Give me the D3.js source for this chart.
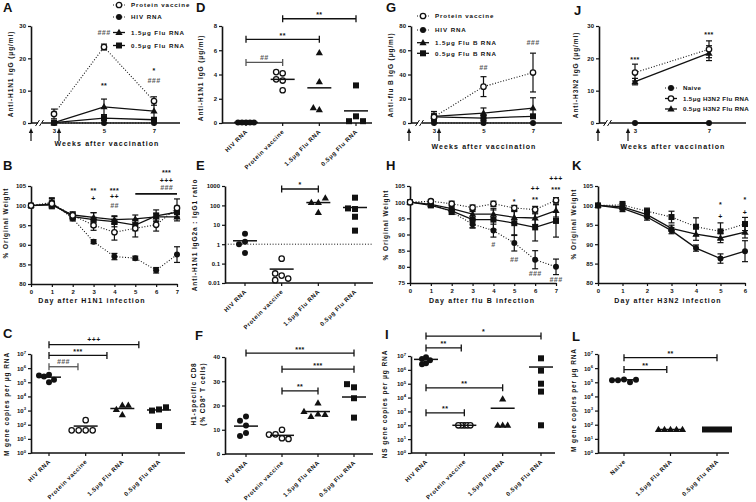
<!DOCTYPE html>
<html><head><meta charset="utf-8">
<script src="https://cdn.jsdelivr.net/npm/d3@7/dist/d3.min.js"></script>
<style>
body{margin:0;background:#fff;}
svg{display:block;}
text{font-family:"Liberation Sans",Arial,Helvetica,sans-serif;font-weight:bold;}
</style></head><body>
<script>
// ======================= DATA =======================
// Panel A – anti-H1N1 IgG (µg/ml) after vaccination
const weeksA = [3, 5, 7];
const aProteinMean = [2.8, 23.5, 6.8];
const aProteinErr  = [1.5, 0.9, 1.3];
const aHivMean     = [0, 0, 0];
const aFlu15Mean   = [0.1, 5.0, 3.7];
const aFlu15Err    = [0, 2.4, 2.6];
const aFlu05Mean   = [0.1, 1.5, 1.0];
const aFlu05Err    = [0, 0.7, 0.6];
const legendA = ["Protein vaccine", "HIV RNA", "1.5μg Flu RNA", "0.5μg Flu RNA"];
const aTicks = [0, 10, 20, 30];
const aNotes = [["###", 5, 28.1], ["**", 5, 12], ["*", 7, 16.4], ["###", 7, 13]];

// Panel B – % original weight after H1N1 infection
const daysB = [0, 1, 2, 3, 4, 5, 6, 7];
const bProteinMean = [100, 100.5, 97.5, 95.0, 93.2, 94.2, 95.1, 99.4];
const bProteinErr  = [0, 1.3, 0.8, 1.3, 2.0, 2.2, 1.6, 2.3];
const bHivMean     = [100, 100.8, 96.7, 90.8, 87.0, 86.6, 83.5, 87.5];
const bHivErr      = [0, 1.2, 0.6, 0.5, 0.8, 0.5, 0.7, 2.0];
const bFlu15Mean   = [100, 100.2, 97.6, 97.0, 96.4, 96.6, 97.1, 97.1];
const bFlu15Err    = [0, 0.8, 0.8, 1.2, 1.0, 1.0, 1.0, 1.0];
const bFlu05Mean   = [100, 100.4, 97.2, 96.4, 95.9, 95.0, 97.4, 98.3];
const bFlu05Err    = [0, 1.0, 0.8, 1.8, 1.3, 1.4, 1.5, 1.5];
const bTicks = [80, 85, 90, 95, 100, 105];
const bNotes = [["**", 3, 104.2], ["+", 3, 101.9], ["***", 4, 104.2], ["++", 4, 102.2], ["##", 4, 99.9],
                ["***", 6.5, 108.6], ["+++", 6.5, 106.5], ["###", 6.5, 104.5]];
const bSpan = [5, 7, 103];

// Panel C – M gene copies per µg RNA
const catsFlu = ["HIV RNA", "Protein vaccine", "1.5μg Flu RNA", "0.5μg Flu RNA"];
const cHiv     = [3.4e5, 2.6e5, 1.0e5, 1.5e5, 3.0e5];
const cProtein = [210, 40, 40, 40, 40];
const cFlu15   = [2.4e3, 5e2, 1.2e3, 2.4e3];
const cFlu05   = [1.2e3, 1.0e3, 1.7e3, 80];
const cCenters = [2.3e5, 80, 1.4e3, 1.1e3];
const powTicks = [1, 10, 100, 1e3, 1e4, 1e5, 1e6, 1e7];
const cSig = [[0, 0.79, 10 ** 6.1, "###"], [0, 1.58, 10 ** 6.9, "***"], [0, 2.45, 10 ** 7.66, "+++"]];

// Panel D – anti-H1N1 IgG (µg/ml)
const dHiv     = [0.05, 0.05, 0.05, 0.05, 0.05];
const dProtein = [4.1, 4.2, 3.6, 3.5, 2.7];
const dFlu15   = [5.8, 3.4, 1.1, 1.25];
const dFlu05   = [3.1, 0.55, 0.15, 0.15];
const dCenters = [0.05, 3.6, 2.9, 1.0];
const dTicks = [0, 2, 4, 6, 8];
const dSig = [[0, 1, 5.0, "##"], [0, 2, 6.9, "**"], [1, 3, 8.6, "**"]];

// Panel E – IgG2a : IgG1 ratio
const eHiv     = [3.5, 1.35, 1.0, 0.35];
const eProtein = [0.18, 0.024, 0.014, 0.017, 0.031];
const eFlu15   = [140, 140, 240, 43];
const eFlu05   = [250, 65, 70, 26, 5];
const eCenters = [1.5, 0.052, 140, 78];
const eTicks = [0.01, 0.1, 1, 10, 100, 1000];
const eSig = [[1, 2, 700, "*"]];

// Panel F – H1-specific CD8 (% CD8+ T cells)
const fHiv     = [15.5, 13.7, 11.8, 8.7, 7.4];
const fProtein = [10, 8.1, 6.5, 6.2, 8.0];
const fFlu15   = [21, 16.5, 15.5, 16.3, 17.5];
const fFlu05   = [27.5, 28.8, 23, 15];
const fCenters = [11.5, 7.7, 17.5, 23.5];
const fTicks = [0, 10, 20, 30, 40];
const fSig = [[0, 3, 41.6, "***"], [1, 3, 35, "***"], [1, 2, 26, "**"]];

// Panel G – anti-flu B IgG (µg/ml)
const weeksG = [3, 5, 7];
const gProteinMean = [5, 30, 41.6];
const gProteinErr  = [3, 8.2, 16];
const gHivMean     = [0, 0, 0];
const gFlu15Mean   = [5.5, 8.2, 12.3];
const gFlu15Err    = [4, 4.2, 8.5];
const gFlu05Mean   = [5, 4.1, 5.5];
const gFlu05Err    = [2, 2.5, 1.5];
const legendG = ["Protein vaccine", "HIV RNA", "1.5μg Flu B RNA", "0.5μg Flu B RNA"];
const gTicks = [0, 20, 40, 60, 80];
const gNotes = [["##", 5, 46], ["###", 7, 66]];

// Panel H – % original weight after flu B infection
const daysH = [0, 1, 2, 3, 4, 5, 6, 7];
const hProteinMean = [100, 100.3, 99.5, 98.3, 99.5, 98.2, 97.7, 100.6];
const hProteinErr  = [0, 0.5, 0.8, 0.8, 0.8, 0.8, 1.0, 0.8];
const hHivMean     = [100, 99.5, 97.0, 93.2, 91.2, 87.4, 82.2, 80.0];
const hHivErr      = [0, 0.5, 0.8, 1.2, 2.0, 2.5, 2.8, 2.4];
const hFlu15Mean   = [100, 99.3, 98.0, 96.3, 96.3, 95.3, 95.1, 97.4];
const hFlu15Err    = [0, 0.5, 1.0, 1.5, 1.8, 1.8, 2.0, 2.0];
const hFlu05Mean   = [100, 99.0, 97.3, 94.6, 94.6, 93.5, 92.2, 94.2];
const hFlu05Err    = [0, 0.6, 1.0, 2.5, 3.0, 3.8, 4.2, 5.0];
const hTicks = [75, 80, 85, 90, 95, 100, 105];
const hNotes = [["#", 4, 86.8], ["*", 5, 100.4], ["##", 5, 82.1], ["++", 6, 104.1], ["**", 6, 101.2],
                ["###", 6, 78], ["+++", 7, 107.4], ["***", 7, 104.3], ["###", 7, 75.9]];

// Panel I – NS gene copies per µg RNA
const iHiv     = [8e6, 6e6, 5e6, 3e6, 2.5e6];
const iProtein = [100, 100, 100, 100, 100];
const iFlu15   = [8e3, 100, 100, 100];
const iFlu05   = [6.8e6, 8.8e5, 1e5, 2.7e4, 100];
const iCenters = [5.7e6, 100, 1.7e3, 1.6e6];
const iSig = [[0, 3, 10 ** 8.44, "*"], [0, 0.92, 10 ** 7.58, "**"], [0, 2, 10 ** 4.7, "**"], [0, 1, 10 ** 2.9, "**"]];

// Panel J – anti-H3N2 IgG (µg/ml)
const weeksJ = [3, 7];
const jNaiveMean = [0, 0];
const jFlu15Mean = [15.6, 22.8];
const jFlu15Err  = [2.6, 2.6];
const jFlu05Mean = [12.8, 21.6];
const jFlu05Err  = [1.0, 2.3];
const legendJ = ["Naive", "1.5μg H3N2 Flu RNA", "0.5μg H3N2 Flu RNA"];
const jTicks = [0, 10, 20, 30];
const jNotes = [["***", 3, 20], ["***", 7, 27.8]];

// Panel K – % original weight after H3N2 infection
const daysK = [0, 1, 2, 3, 4, 5, 6];
const kSquareMean = [100, 100.1, 98.5, 97.0, 94.5, 93.3, 95.2];
const kSquareErr  = [0, 0.9, 0.8, 1.5, 2.3, 2.2, 1.7];
const kTriMean    = [100, 99.6, 97.6, 94.1, 92.6, 91.6, 93.1];
const kTriErr     = [0, 0.8, 0.7, 0.8, 1.6, 1.2, 1.5];
const kCircleMean = [100, 99.2, 97.0, 93.5, 89.0, 86.3, 88.2];
const kCircleErr  = [0, 0.8, 0.8, 0.8, 0.8, 1.2, 2.7];
const kTicks = [80, 85, 90, 95, 100, 105];
const kNotes = [["*", 5, 100.5], ["+", 5, 97.1], ["*", 6, 101.8], ["+", 6, 98.1]];

// Panel L – M gene copies per µg RNA (H3N2)
const catsL = ["Naive", "1.5μg Flu RNA", "0.5μg Flu RNA"];
const lNaive   = [1.6e5, 1.4e5, 1.0e5, 1.4e5, 1.5e5];
const lFlu15   = [46, 46, 46, 46, 46];
const lFlu05   = [46, 46, 46, 46, 46];
const lCenters = [1.5e5, 46, 46];
const lSig = [[0, 0.92, 10 ** 5.9, "**"], [0, 2, 10 ** 6.74, "**"]];

// ======================= DRAWING =======================
const svg = d3.select('body').append('svg').attr('width', 756).attr('height', 502);
const INK = '#111', GRAY = '#555';

function addText(x, y, s, o = {}) {
  const t = svg.append('text').attr('x', x).attr('y', y).text(s)
    .attr('font-size', o.size || 6).attr('text-anchor', o.anchor || 'middle').attr('fill', o.fill || INK);
  if (o.ls != null) t.attr('letter-spacing', o.ls);
  if (o.italic) t.attr('font-style', 'italic');
  if (o.rotate) t.attr('transform', `rotate(${o.rotate},${x},${y})`);
  return t;
}
function hline(x1, x2, y, w, col) {
  return svg.append('line').attr('x1', x1).attr('x2', x2).attr('y1', y).attr('y2', y)
    .attr('stroke', col || INK).attr('stroke-width', w || 1.6);
}
function vline(x, y1, y2, w, col) {
  return svg.append('line').attr('x1', x).attr('x2', x).attr('y1', y1).attr('y2', y2)
    .attr('stroke', col || INK).attr('stroke-width', w || 1.6);
}
function drawMarker(type, x, y, s) {
  if (type === 'circle') svg.append('circle').attr('cx', x).attr('cy', y).attr('r', s / 2).attr('fill', INK);
  else if (type === 'open') svg.append('circle').attr('cx', x).attr('cy', y).attr('r', s / 2 - 0.3)
    .attr('fill', '#fff').attr('stroke', INK).attr('stroke-width', 1.3);
  else if (type === 'square') svg.append('rect').attr('x', x - s / 2).attr('y', y - s / 2)
    .attr('width', s).attr('height', s).attr('fill', INK);
  else if (type === 'tri') svg.append('path')
    .attr('d', `M${x},${y - s * 0.62}L${x + s * 0.6},${y + s * 0.42}L${x - s * 0.6},${y + s * 0.42}Z`).attr('fill', INK);
}
function styleAxis(g) {
  g.attr('font-family', null).attr('font-size', null);
  g.select('.domain').attr('stroke', INK).attr('stroke-width', 1.6);
  g.selectAll('.tick line').attr('stroke', INK).attr('stroke-width', 1.2);
  g.selectAll('.tick text').attr('fill', INK).attr('font-size', 6);
}
function yAxis(scale, x, ticks, fmt) {
  const g = svg.append('g').attr('transform', `translate(${x},0)`)
    .call(d3.axisLeft(scale).tickValues(ticks).tickSize(3).tickSizeOuter(0).tickPadding(2)
      .tickFormat(fmt || d3.format('d')));
  styleAxis(g);
  return g;
}
function yAxisPow(scale, x, ticks) {
  const g = yAxis(scale, x, ticks, () => '');
  g.selectAll('.tick').each(function (d) {
    const t = d3.select(this).select('text').text(null);
    t.append('tspan').text('10');
    t.append('tspan').attr('dy', -2.6).attr('font-size', 4.2).text(Math.round(Math.log10(d)));
  });
}
function xAxisNum(scale, y, ticks) {
  const g = svg.append('g').attr('transform', `translate(0,${y})`)
    .call(d3.axisBottom(scale).tickValues(ticks).tickSize(3).tickSizeOuter(0).tickPadding(3)
      .tickFormat(d3.format('d')));
  styleAxis(g);
  return g;
}
function xAxisWeeks(scale, y, ticks, x0, x1, brk, arrows) {
  hline(x0, x1, y, 1.6);
  const g = xAxisNum(scale, y, ticks);
  g.select('.domain').remove();
  // axis break
  svg.append('rect').attr('x', brk - 2).attr('y', y - 2).attr('width', 4).attr('height', 4).attr('fill', '#fff');
  [brk - 3, brk + 1].forEach(bx => svg.append('line').attr('x1', bx - 1.5).attr('y1', y + 3)
    .attr('x2', bx + 2.5).attr('y2', y - 3).attr('stroke', INK).attr('stroke-width', 1));
  arrows.forEach(ax => {
    vline(ax, y + 8, y + 18, 1.2);
    svg.append('path').attr('d', `M${ax},${y + 5}L${ax + 2.2},${y + 10}L${ax - 2.2},${y + 10}Z`).attr('fill', INK);
  });
}
function xAxisCat(xc, y, x0, x1, labels) {
  hline(x0, x1, y, 1.6);
  labels.forEach((lab, i) => {
    const cx = xc(i);
    vline(cx, y, y + 3, 1.2);
    addText(cx + 2, y + 9, lab, { anchor: 'end', size: 6, ls: 0.6, rotate: -45 });
  });
}
function series(x, y, xs, means, errs, type, dashed) {
  const line = d3.line().x((d, i) => x(xs[i])).y(d => y(d));
  svg.append('path').datum(means).attr('d', line).attr('fill', 'none').attr('stroke', INK)
    .attr('stroke-width', dashed ? 1.1 : 1.3).attr('stroke-dasharray', dashed ? '1,1.8' : null);
  if (errs) means.forEach((m, i) => {
    const e = errs[i]; if (!e) return;
    const cx = x(xs[i]), ya = y(m + e), yb = y(m - e);
    vline(cx, ya, yb, 1.2);
    hline(cx - 3, cx + 3, ya, 1.2); hline(cx - 3, cx + 3, yb, 1.2);
  });
  means.forEach((m, i) => drawMarker(type, x(xs[i]), y(m), 6));
}
function note(x, y, s) {
  const hash = s[0] === '#', star = s[0] === '*';
  addText(x, y + (star ? 3.4 : 2.4), s, { size: 7, fill: hash ? GRAY : INK, italic: hash, ls: 0.4 });
}
function sigBar(xc, y, a, b, v, s) {
  const x1 = xc(a), x2 = xc(b), py = y(v), col = s[0] === '#' ? GRAY : INK;
  hline(x1, x2, py, 1.3, col); vline(x1, py - 3.5, py + 3.5, 1.3, col); vline(x2, py - 3.5, py + 3.5, 1.3, col);
  note((x1 + x2) / 2, py - 5, s);
}
function swarm(vals, y, cx, step) {
  const placed = [];
  return vals.map(v => {
    const py = y(v); let off = 0;
    for (let k = 0; k < 40; k++) {
      off = k === 0 ? 0 : (k % 2 ? -1 : 1) * Math.ceil(k / 2) * step;
      if (placed.every(p => Math.hypot(p.x - off, p.y - py) >= step - 0.01)) break;
    }
    placed.push({ x: off, y: py });
    return [cx + off, py];
  });
}
function group(xc, y, i, vals, center, type, step) {
  swarm(vals, y, xc(i), step).forEach(([px, py]) => drawMarker(type, px, py, 6));
  hline(xc(i) - 12, xc(i) + 12, y(center), 1.5);
}
function legend(x, ys, labels, types, dashes, ls) {
  labels.forEach((lab, i) => {
    svg.append('line').attr('x1', x - 6).attr('x2', x + 6).attr('y1', ys[i]).attr('y2', ys[i])
      .attr('stroke', INK).attr('stroke-width', dashes[i] ? 1.1 : 1.3).attr('stroke-dasharray', dashes[i] ? '1,1.8' : null);
    drawMarker(types[i], x, ys[i], 6);
    addText(x + 12, ys[i] + 2.2, lab, { anchor: 'start', size: 6.2, ls: ls });
  });
}
function ytitle(x, y, s) { addText(x, y, s, { size: 6.5, ls: 0.9, rotate: -90 }); }
function xtitle(x, y, s) { addText(x, y, s, { size: 7, ls: 1.1 }); }
function letter(x, y, s) { addText(x, y, s, { anchor: 'start', size: 13 }); }

// ---------- Panel A ----------
{
  const y = d3.scaleLinear().domain([0, 30]).range([123, 26]);
  const x = d3.scaleLinear().domain([3, 7]).range([54, 154]);
  yAxis(y, 31, aTicks);
  xAxisWeeks(x, 123, weeksA, 31, 180, 40, [31, 59]);
  series(x, y, weeksA, aHivMean, null, 'circle', true);
  series(x, y, weeksA, aFlu05Mean, aFlu05Err, 'square', false);
  series(x, y, weeksA, aFlu15Mean, aFlu15Err, 'tri', false);
  series(x, y, weeksA, aProteinMean, aProteinErr, 'open', true);
  aNotes.forEach(([s, wx, v]) => note(x(wx), y(v), s));
  legend(119, [5, 17, 32.5, 45.5], legendA, ['open', 'circle', 'tri', 'square'], [true, true, false, false], 0.9);
  ytitle(13, 74, "Anti-H1N1 IgG (μg/ml)");
  xtitle(107, 146, "Weeks after vaccination");
  letter(3, 12, "A");
}
// ---------- Panel B ----------
{
  const y = d3.scaleLinear().domain([80, 105]).range([284, 186]);
  const x = d3.scaleLinear().domain([0, 7]).range([31, 177]);
  yAxis(y, 31, bTicks);
  xAxisNum(x, 284, daysB);
  series(x, y, daysB, bHivMean, bHivErr, 'circle', true);
  series(x, y, daysB, bFlu15Mean, bFlu15Err, 'tri', false);
  series(x, y, daysB, bFlu05Mean, bFlu05Err, 'square', false);
  series(x, y, daysB, bProteinMean, bProteinErr, 'open', true);
  bNotes.forEach(([s, dx, v]) => note(x(dx), y(v), s));
  hline(x(bSpan[0]), x(bSpan[1]), y(bSpan[2]), 1.6);
  ytitle(8, 223, "% Original Weight");
  xtitle(92, 303, "Day after H1N1 infection");
  letter(3, 170, "B");
}
// ---------- Panel C ----------
{
  const y = d3.scaleLog().domain([1, 1e7]).range([453, 354]);
  const xc = d3.scaleLinear().domain([0, 3]).range([49, 159]);
  yAxisPow(y, 31, powTicks);
  xAxisCat(xc, 453, 31, 185, catsFlu);
  group(xc, y, 0, cHiv, cCenters[0], 'circle', 5);
  group(xc, y, 1, cProtein, cCenters[1], 'open', 7);
  group(xc, y, 2, cFlu15, cCenters[2], 'tri', 6);
  group(xc, y, 3, cFlu05, cCenters[3], 'square', 7);
  cSig.forEach(([a, b, v, s]) => sigBar(xc, y, a, b, v, s));
  ytitle(9, 404, "M gene copies per μg RNA");
  letter(3, 338, "C");
}
// ---------- Panel D ----------
{
  const y = d3.scaleLinear().domain([0, 8]).range([123, 26]);
  const xc = d3.scaleLinear().domain([0, 3]).range([246, 356]);
  yAxis(y, 222, dTicks);
  xAxisCat(xc, 123, 222, 372, catsFlu);
  group(xc, y, 0, dHiv, dCenters[0], 'circle', 4);
  group(xc, y, 1, dProtein, dCenters[1], 'open', 6.5);
  group(xc, y, 2, dFlu15, dCenters[2], 'tri', 6);
  group(xc, y, 3, dFlu05, dCenters[3], 'square', 7);
  dSig.forEach(([a, b, v, s]) => sigBar(xc, y, a, b, v, s));
  ytitle(203, 78, "Anti-H1N1 IgG (μg/ml)");
  letter(196, 12, "D");
}
// ---------- Panel E ----------
{
  const y = d3.scaleLog().domain([0.01, 1000]).range([283, 186]);
  const xc = d3.scaleLinear().domain([0, 3]).range([245, 355]);
  yAxis(y, 225, eTicks, d => String(d));
  xAxisCat(xc, 283, 225, 373, catsFlu);
  svg.append('line').attr('x1', 225).attr('x2', 373).attr('y1', y(1)).attr('y2', y(1))
    .attr('stroke', INK).attr('stroke-width', 1).attr('stroke-dasharray', '1,1.8');
  group(xc, y, 0, eHiv, eCenters[0], 'circle', 6);
  group(xc, y, 1, eProtein, eCenters[1], 'open', 6.5);
  group(xc, y, 2, eFlu15, eCenters[2], 'tri', 7);
  group(xc, y, 3, eFlu05, eCenters[3], 'square', 7);
  eSig.forEach(([a, b, v, s]) => sigBar(xc, y, a, b, v, s));
  ytitle(197, 235, "Anti-H1N1 IgG2a : IgG1 ratio");
  letter(196, 170, "E");
}
// ---------- Panel F ----------
{
  const y = d3.scaleLinear().domain([0, 40]).range([454, 357]);
  const xc = d3.scaleLinear().domain([0, 3]).range([246, 354]);
  yAxis(y, 225, fTicks);
  xAxisCat(xc, 454, 225, 373, catsFlu);
  group(xc, y, 0, fHiv, fCenters[0], 'circle', 6);
  group(xc, y, 1, fProtein, fCenters[1], 'open', 6.5);
  group(xc, y, 2, fFlu15, fCenters[2], 'tri', 7);
  group(xc, y, 3, fFlu05, fCenters[3], 'square', 7);
  fSig.forEach(([a, b, v, s]) => sigBar(xc, y, a, b, v, s));
  ytitle(196, 394, "H1-specific CD8");
  ytitle(205, 394, "(% CD8⁺ T cells)");
  letter(195, 340, "F");
}
// ---------- Panel G ----------
{
  const y = d3.scaleLinear().domain([0, 80]).range([123, 26]);
  const x = d3.scaleLinear().domain([3, 7]).range([434, 533]);
  yAxis(y, 411, gTicks);
  xAxisWeeks(x, 123, weeksG, 411, 562, 420, [409, 439]);
  series(x, y, weeksG, gHivMean, null, 'circle', true);
  series(x, y, weeksG, gFlu05Mean, gFlu05Err, 'square', false);
  series(x, y, weeksG, gFlu15Mean, gFlu15Err, 'tri', false);
  series(x, y, weeksG, gProteinMean, gProteinErr, 'open', true);
  gNotes.forEach(([s, wx, v]) => note(x(wx), y(v), s));
  legend(423, [16, 30, 42.7, 53.3], legendG, ['open', 'circle', 'tri', 'square'], [true, true, false, false], 0.9);
  ytitle(393, 75, "Anti-flu B IgG (μg/ml)");
  xtitle(484, 149, "Weeks after vaccination");
  letter(386, 12, "G");
}
// ---------- Panel H ----------
{
  const y = d3.scaleLinear().domain([75, 105]).range([283, 186]);
  const x = d3.scaleLinear().domain([0, 7]).range([410, 556]);
  yAxis(y, 410, hTicks);
  xAxisNum(x, 283, daysH);
  series(x, y, daysH, hHivMean, hHivErr, 'circle', true);
  series(x, y, daysH, hFlu05Mean, hFlu05Err, 'square', false);
  series(x, y, daysH, hFlu15Mean, hFlu15Err, 'tri', false);
  series(x, y, daysH, hProteinMean, hProteinErr, 'open', true);
  hNotes.forEach(([s, dx, v]) => note(x(dx), y(v), s));
  ytitle(388, 225, "% Original Weight");
  xtitle(482, 303, "Day after flu B infection");
  letter(386, 170, "H");
}
// ---------- Panel I ----------
{
  const y = d3.scaleLog().domain([1, 1e7]).range([453, 356]);
  const xc = d3.scaleLinear().domain([0, 3]).range([426, 541]);
  yAxisPow(y, 411, powTicks);
  xAxisCat(xc, 453, 411, 555, catsFlu);
  group(xc, y, 0, iHiv, iCenters[0], 'circle', 4);
  group(xc, y, 1, iProtein, iCenters[1], 'open', 3);
  group(xc, y, 2, iFlu15, iCenters[2], 'tri', 5);
  group(xc, y, 3, iFlu05, iCenters[3], 'square', 7);
  iSig.forEach(([a, b, v, s]) => sigBar(xc, y, a, b, v, s));
  ytitle(387, 404, "NS gene copies per μg RNA");
  letter(385, 339, "I");
}
// ---------- Panel J ----------
{
  const y = d3.scaleLinear().domain([0, 30]).range([123, 26]);
  const x = d3.scaleLinear().domain([3, 7]).range([635, 709]);
  yAxis(y, 599, jTicks);
  xAxisWeeks(x, 123, weeksJ, 599, 746, 608, [598, 628]);
  series(x, y, weeksJ, jNaiveMean, null, 'circle', false);
  series(x, y, weeksJ, jFlu05Mean, jFlu05Err, 'tri', false);
  series(x, y, weeksJ, jFlu15Mean, jFlu15Err, 'open', true);
  jNotes.forEach(([s, wx, v]) => note(x(wx), y(v), s));
  legend(671, [88, 98.5, 109], legendJ, ['circle', 'open', 'tri'], [true, false, false], 0.35);
  ytitle(578, 75, "Anti-H3N2 IgG (μg/ml)");
  xtitle(673, 149, "Weeks after vaccination");
  letter(574, 15, "J");
}
// ---------- Panel K ----------
{
  const y = d3.scaleLinear().domain([80, 105]).range([283, 186]);
  const x = d3.scaleLinear().domain([0, 6]).range([598, 745]);
  yAxis(y, 598, kTicks);
  xAxisNum(x, 283, daysK);
  series(x, y, daysK, kCircleMean, kCircleErr, 'circle', false);
  series(x, y, daysK, kTriMean, kTriErr, 'tri', false);
  series(x, y, daysK, kSquareMean, kSquareErr, 'square', true);
  kNotes.forEach(([s, dx, v]) => note(x(dx), y(v), s));
  ytitle(576, 224, "% Original Weight");
  xtitle(668, 303, "Day after H3N2 infection");
  letter(572, 170, "K");
}
// ---------- Panel L ----------
{
  const y = d3.scaleLog().domain([1, 1e7]).range([453, 354]);
  const xc = d3.scaleLinear().domain([0, 2]).range([624, 717]);
  yAxisPow(y, 598, powTicks);
  xAxisCat(xc, 453, 598, 729, catsL);
  group(xc, y, 0, lNaive, lCenters[0], 'circle', 6);
  group(xc, y, 1, lFlu15, lCenters[1], 'tri', 6);
  group(xc, y, 2, lFlu05, lCenters[2], 'square', 6);
  lSig.forEach(([a, b, v, s]) => sigBar(xc, y, a, b, v, s));
  ytitle(576, 400, "M gene copies per μg RNA");
  letter(572, 341, "L");
}
</script></body></html>
